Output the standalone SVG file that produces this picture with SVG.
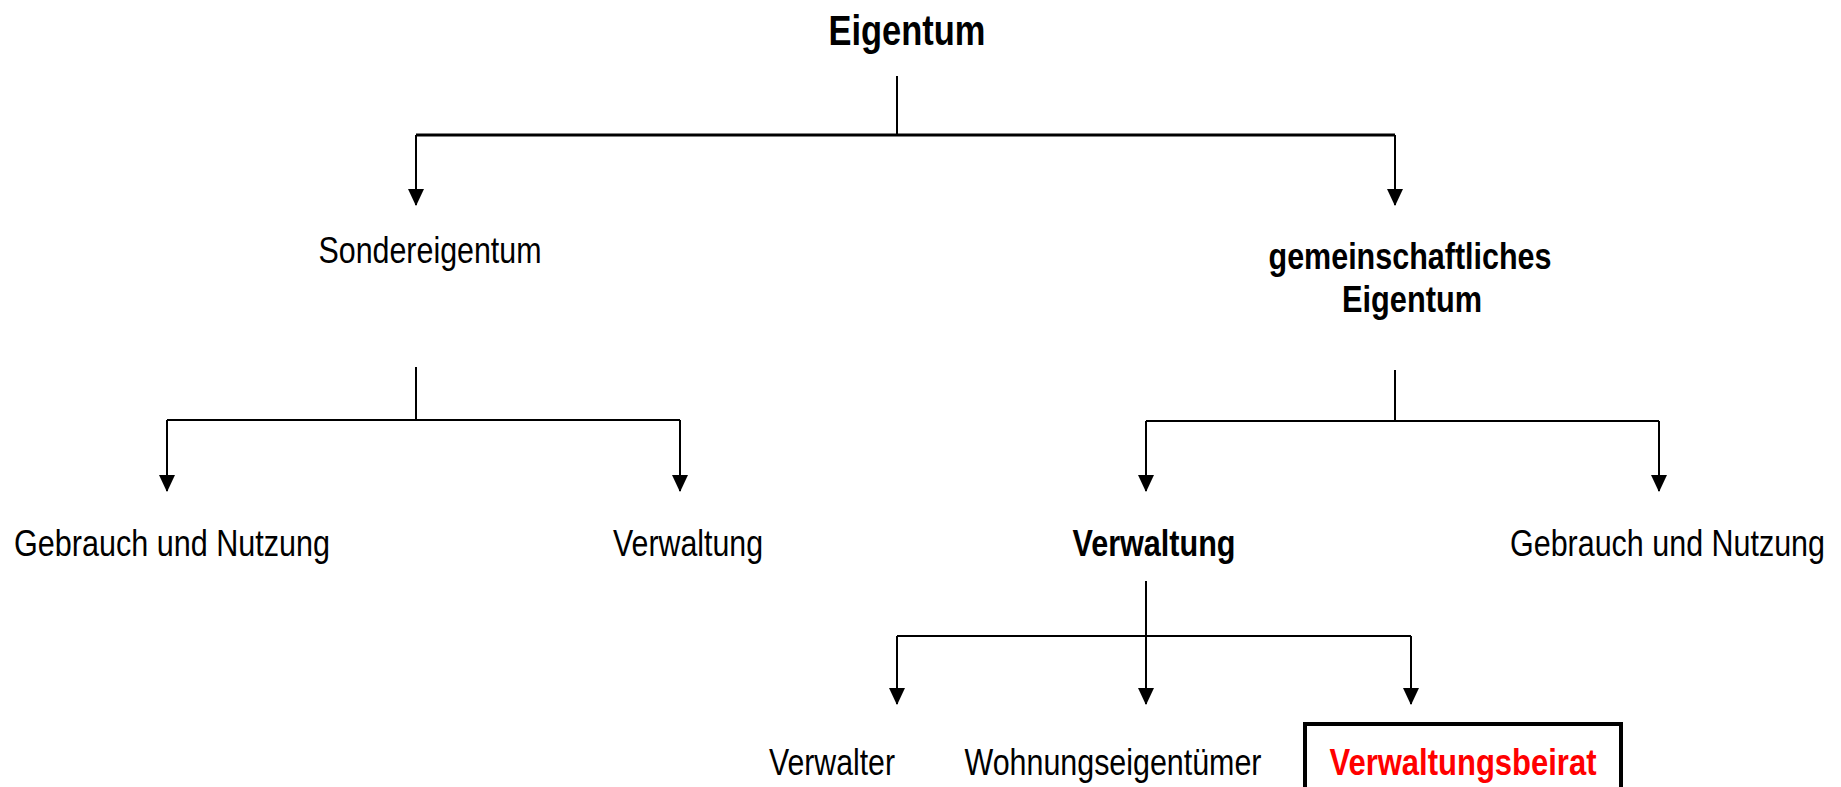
<svg xmlns="http://www.w3.org/2000/svg" width="1841" height="787" viewBox="0 0 1841 787">
  <style>
    .lbl { font-family: "Liberation Sans Narrow", "Liberation Sans", Arial, sans-serif; font-size: 37px; fill: #000; text-anchor: middle; }
    .end { text-anchor: end; }
    .b { font-weight: bold; }
    .title { font-size: 42px; }
    .hot { fill: #ff0000; }
    .wire { fill: none; stroke: #000; stroke-width: 2; }
    .wire.heavy { stroke-width: 3; }
    .arrow { fill: none; stroke: #000; stroke-width: 2; marker-end: url(#tip); }
  </style>
  <defs>
    <!-- solid triangular arrowhead, 16px wide and 17px long -->
    <marker id="tip" markerUnits="userSpaceOnUse" markerWidth="17" markerHeight="16" refX="16" refY="8" orient="auto" viewBox="0 0 17 16">
      <path d="M0,0 L17,8 L0,16 Z" fill="#000"/>
    </marker>
  </defs>
  <rect width="1841" height="787" fill="#fff"/>

  <g id="connectors">
    <!-- Eigentum -> Sondereigentum / gemeinschaftliches Eigentum -->
    <path class="wire" d="M897,76 V134"/>
    <path class="wire heavy" d="M416,135 H1395"/>
    <path class="arrow" d="M416,135 V205"/>
    <path class="arrow" d="M1395,135 V205"/>
    <!-- Sondereigentum -> children -->
    <path class="wire" d="M416,367 V420"/>
    <path class="wire" d="M167,420 H680"/>
    <path class="arrow" d="M167,420 V491"/>
    <path class="arrow" d="M680,420 V491"/>
    <!-- gemeinschaftliches Eigentum -> children -->
    <path class="wire" d="M1395,370 V421"/>
    <path class="wire" d="M1146,421 H1659"/>
    <path class="arrow" d="M1146,421 V491"/>
    <path class="arrow" d="M1659,421 V491"/>
    <!-- Verwaltung -> organs -->
    <path class="arrow" d="M1146,581 V704"/>
    <path class="wire" d="M897,636 H1411"/>
    <path class="arrow" d="M897,636 V704"/>
    <path class="arrow" d="M1411,636 V704"/>
  </g>

  <g id="n-eigentum">
    <text class="lbl b title" x="907" y="45" textLength="157" lengthAdjust="spacingAndGlyphs">Eigentum</text>
  </g>
  <g id="n-sondereigentum">
    <text class="lbl" x="430" y="263" textLength="223" lengthAdjust="spacingAndGlyphs">Sondereigentum</text>
  </g>
  <g id="n-gemeinschaftlich">
    <text class="lbl b" x="1410" y="269" textLength="283" lengthAdjust="spacingAndGlyphs">gemeinschaftliches</text>
    <text class="lbl b" x="1412" y="312" textLength="140" lengthAdjust="spacingAndGlyphs">Eigentum</text>
  </g>
  <g id="n-sonder-gebrauch">
    <text class="lbl" x="172" y="556" textLength="316" lengthAdjust="spacingAndGlyphs">Gebrauch und Nutzung</text>
  </g>
  <g id="n-sonder-verwaltung">
    <text class="lbl" x="688" y="556" textLength="150" lengthAdjust="spacingAndGlyphs">Verwaltung</text>
  </g>
  <g id="n-gem-verwaltung">
    <text class="lbl b" x="1154" y="556" textLength="163" lengthAdjust="spacingAndGlyphs">Verwaltung</text>
  </g>
  <g id="n-gem-gebrauch">
    <text class="lbl end" x="1825" y="556" textLength="315" lengthAdjust="spacingAndGlyphs">Gebrauch und Nutzung</text>
  </g>
  <g id="n-verwalter">
    <text class="lbl" x="832" y="775" textLength="126" lengthAdjust="spacingAndGlyphs">Verwalter</text>
  </g>
  <g id="n-wohnungseigentuemer">
    <text class="lbl" x="1113" y="775" textLength="297" lengthAdjust="spacingAndGlyphs">Wohnungseigentümer</text>
  </g>
  <g id="n-beirat">
    <rect x="1305" y="724" width="316" height="90" fill="#fff" stroke="#000" stroke-width="4"/>
    <text class="lbl b hot" x="1463" y="775" textLength="267" lengthAdjust="spacingAndGlyphs">Verwaltungsbeirat</text>
  </g>
</svg>
